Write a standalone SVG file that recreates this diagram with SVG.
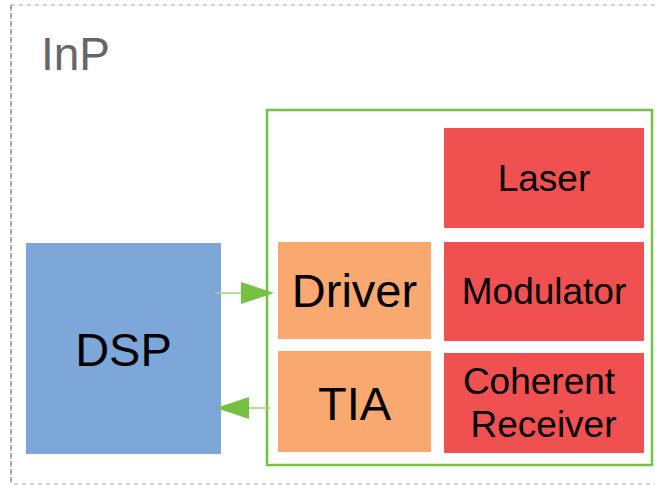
<svg xmlns="http://www.w3.org/2000/svg" width="655" height="485" viewBox="0 0 655 485">
<defs>
<style>
text{font-family:"Liberation Sans",Arial,sans-serif;text-anchor:middle;fill:#000}
.red{fill:#F05050}
.orange{fill:#F9A870}
.conn{stroke:#9ED47C;stroke-width:1.5;fill:none}
.head{fill:#76C043}
</style>
</defs>
<rect x="11" y="5" width="660" height="479" fill="none" stroke="#aaaaaa" stroke-width="1.2" stroke-dasharray="4,4"/>
<line x1="11" y1="5" x2="11" y2="484" stroke="#777" stroke-width="1.2" stroke-dasharray="4,4"/>
<text x="41" y="70" style="text-anchor:start;fill:#666666;font-size:46px">InP</text>
<g id="module"><rect x="267" y="110" width="385" height="355" fill="none" stroke="#76C043" stroke-width="2.5"/></g>
<g id="dsp"><rect x="26" y="243" width="195" height="211" fill="#7DA7D9"/><text x="123.5" y="366" font-size="47">DSP</text></g>
<g id="driver"><rect class="orange" x="278" y="242" width="153" height="97"/><text x="354.5" y="307" font-size="47">Driver</text></g>
<g id="tia"><rect class="orange" x="278" y="351" width="153" height="101"/><text x="354.5" y="420" font-size="47">TIA</text></g>
<g id="laser"><rect class="red" x="444" y="128" width="200" height="100"/><text x="544" y="191" font-size="37">Laser</text></g>
<g id="modulator"><rect class="red" x="444" y="242" width="200" height="99"/><text x="544" y="304" font-size="37">Modulator</text></g>
<g id="receiver"><rect class="red" x="444" y="353" width="200" height="100"/><text x="539" y="394" font-size="37">Coherent</text><text x="543.5" y="437" font-size="37">Receiver</text></g>
<g id="connectors">
<line class="conn" x1="215" y1="293" x2="245" y2="293"/>
<polygon class="head" points="241,282 274,293 241,304"/>
<line class="conn" x1="270" y1="408" x2="245" y2="408"/>
<polygon class="head" points="249,397 216,408 249,419"/>
</g>
</svg>
